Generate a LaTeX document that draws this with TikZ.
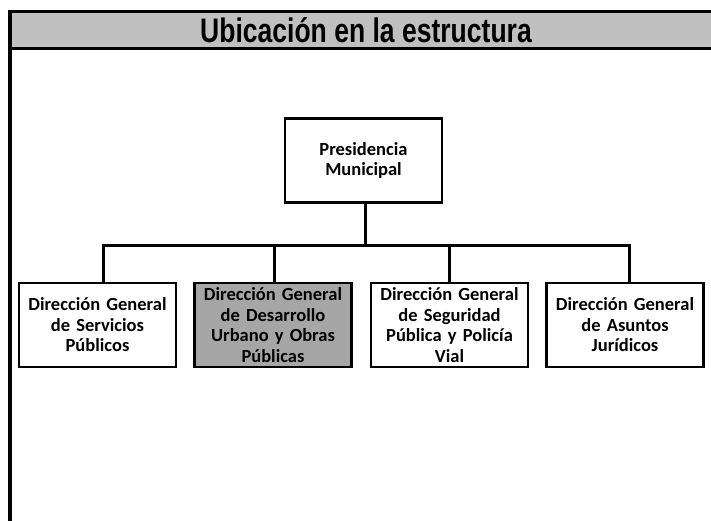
\documentclass[tikz,border=0pt]{standalone}
\usepackage{fontspec}
\usepackage{graphicx}
\setmainfont{Carlito}
\newfontfamily\titlefont{Liberation Sans}
\definecolor{headgray}{HTML}{C0C0C0}
\definecolor{boxgray}{HTML}{A6A6A6}
\begin{document}
\begin{tikzpicture}[x=1pt,y=-1pt,
  orgbox/.style={draw=black, line width=2.2pt, fill=white, inner sep=3pt,
    text width=151pt, minimum height=84pt, align=center,
    font=\fontsize{18.5}{20.5}\selectfont\bfseries},
  conn/.style={line width=3pt},
  frameline/.style={line width=3.5pt}]
\useasboundingbox (0,0) rectangle (711,520);
\clip (0,0) rectangle (711,520);
% frame and header
\draw[frameline] (10,11.5) -- (10,540);
\draw[frameline, fill=headgray] (10,11.5) rectangle (730,48.5);
\node[anchor=base, inner sep=0] (title) at (366,42)
  {\scalebox{0.78}[1]{\titlefont\fontsize{34}{40}\selectfont\bfseries Ubicación en la estructura}};
% boxes
\node[orgbox, text width=151pt] (pres) at (363.5,160.5) {Presidencia\\Municipal};
\node[orgbox] (b1) at (97.5,325) {Dirección General\\de Servicios\\Públicos};
\node[orgbox, fill=boxgray] (b2) at (273,325) {Dirección General\\de Desarrollo\\Urbano y Obras\\Públicas};
\node[orgbox] (b3) at (449.5,325) {Dirección General\\de Seguridad\\Pública y Policía\\Vial};
\node[orgbox] (b4) at (625,325) {Dirección General\\de Asuntos\\Jurídicos};
% connectors
\coordinate (j0) at (365,245.5);
\coordinate (j1) at (103,245.5);
\coordinate (j2) at (274,245.5);
\coordinate (j3) at (449,245.5);
\coordinate (j4) at (629,245.5);
\draw[conn] (pres.south -| j0) -- (j0);
\draw[conn] (j1 |- b1.north) -- (j1) -- (j4) -- (j4 |- b4.north);
\draw[conn] (j2) -- (j2 |- b2.north);
\draw[conn] (j3) -- (j3 |- b3.north);
\end{tikzpicture}
\end{document}
